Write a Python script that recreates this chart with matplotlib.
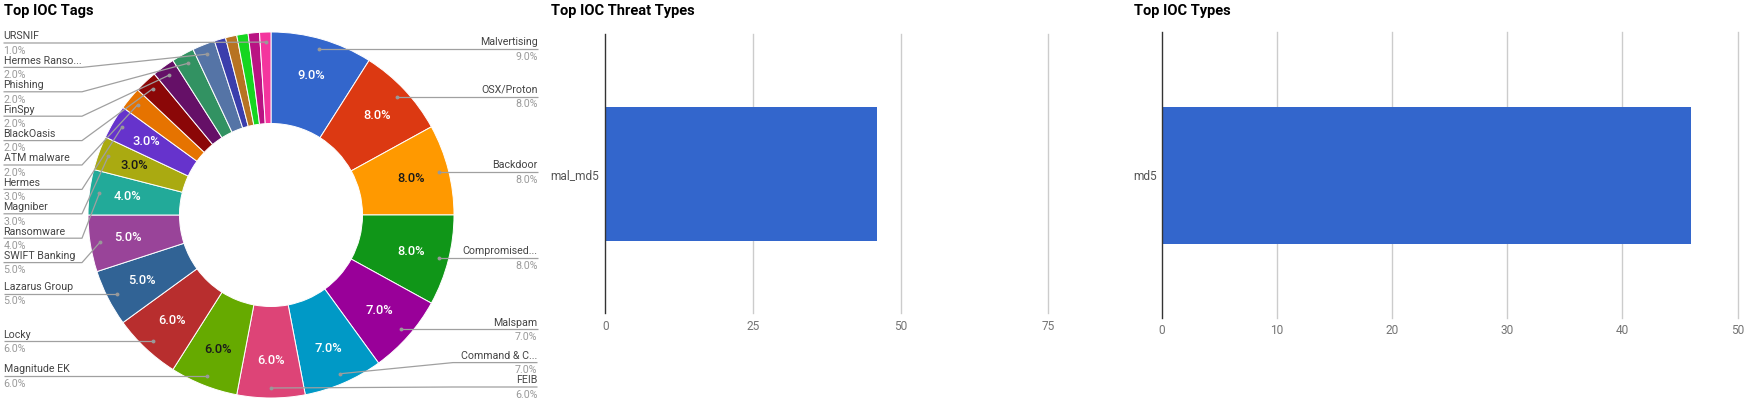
import numpy as np
import matplotlib
matplotlib.use("Agg")
import matplotlib.pyplot as plt

# ---------------- data ----------------
tag_names = ["Malvertising", "OSX/Proton", "Backdoor", "Compromised...", "Malspam",
             "Command & C...", "FEIB", "Magnitude EK", "Locky", "Lazarus Group",
             "SWIFT Banking", "Ransomware", "Magniber", "Hermes", "ATM malware",
             "BlackOasis", "FinSpy", "Phishing", "Hermes Ranso...", "", "", "", "",
             "URSNIF"]
tag_values = [9, 8, 8, 8, 7, 7, 6, 6, 6, 5, 5, 4, 3, 3, 2, 2, 2, 2, 2, 1, 1, 1, 1, 1]

threat_types = ["mal_md5"]
threat_counts = [46]
threat_ticks = [0, 25, 50, 75]

ioc_types = ["md5"]
ioc_counts = [46]
ioc_ticks = [0, 10, 20, 30, 40, 50]

# ---------------- style ----------------
palette = ["#3366cc", "#dc3912", "#ff9900", "#109618", "#990099", "#0099c6",
           "#dd4477", "#66aa00", "#b82e2e", "#316395", "#994499", "#22aa99",
           "#aaaa11", "#6633cc", "#e67300", "#8b0707", "#651067", "#329262",
           "#5574a6", "#3b3eac", "#b77322", "#16d620", "#b91383", "#f4359e"]
dark_text_on = {"#ff9900", "#66aa00", "#aaaa11"}
FONT = ["Roboto", "DejaVu Sans"]
plt.rcParams["font.family"] = FONT

W, H, DPI = 1747, 402, 100
fig = plt.figure(figsize=((W + 0.01) / DPI, (H + 0.01) / DPI), dpi=DPI)
fig.patch.set_facecolor("white")

# overlay axes in top-down pixel coordinates
ax = fig.add_axes([0, 0, 1, 1])

# ---------------- donut ----------------
cx, cy, R = 271.0, 215.0, 183.0
hole = 0.5
wedges, _ = ax.pie(tag_values, colors=palette[:len(tag_values)], startangle=-90,
                   counterclock=True, center=(cx, cy), radius=R,
                   wedgeprops=dict(width=R * (1 - hole), edgecolor="white", linewidth=0.7))
ax.set_xlim(0, W)
ax.set_ylim(H, 0)
ax.set_aspect("auto")
ax.axis("off")

total = float(sum(tag_values))
label_r = 145.0
dot_r = 173.0
left_items, right_items = [], []
for i, (w, v, name) in enumerate(zip(wedges, tag_values, tag_names)):
    th = np.deg2rad((w.theta1 + w.theta2) / 2.0)
    pct = 100.0 * v / total
    col = palette[i]
    if pct >= 3:
        ax.text(cx + label_r * np.cos(th), cy + label_r * np.sin(th), f"{pct:.1f}%",
                ha="center", va="center", fontsize=9.3, fontweight=500,
                color="#1a1a1a" if col in dark_text_on else "white")
    if name:
        dx, dy = cx + dot_r * np.cos(th), cy + dot_r * np.sin(th)
        vis_angle = (np.rad2deg(th) + 90.0) % 360.0
        item = dict(name=name, pct=pct, dx=dx, dy=dy, ang=vis_angle)
        (right_items if vis_angle <= 180.0 + 1e-9 else left_items).append(item)

def place(items, top, bottom, gap):
    ys = []
    for it in items:
        y = max(it["dy"], top)
        if ys:
            y = max(y, ys[-1] + gap)
        ys.append(y)
    for k in range(len(ys) - 1, -1, -1):
        lim = bottom if k == len(ys) - 1 else ys[k + 1] - gap
        ys[k] = min(ys[k], lim)
    return ys

left_items.sort(key=lambda it: -it["ang"])
right_items.sort(key=lambda it: it["ang"])
gap = 24.4
line_c = "#a0a0a0"
for side, items in (("L", left_items), ("R", right_items)):
    ys = place(items, 43.0, 387.0, gap)
    for it, y in zip(items, ys):
        if side == "L":
            tx, bend, ha = 3.5, 82.0, "left"
        else:
            tx, bend, ha = 537.5, 453.0, "right"
        ax.plot([tx, bend, it["dx"]], [y, y, it["dy"]], color=line_c, lw=0.9,
                solid_capstyle="butt", zorder=3)
        ax.plot([it["dx"]], [it["dy"]], "o", ms=2.8, color="#999999", mec="none", zorder=4)
        ax.text(tx, y - 3.6, it["name"], ha=ha, va="baseline", fontsize=7.7, color="#444444")
        ax.text(tx, y + 10.8, f"{it['pct']:.1f}%", ha=ha, va="baseline", fontsize=7.7,
                color="#9a9a9a")

ax.text(3.5, 14.5, "Top IOC Tags", ha="left", va="baseline", fontsize=10.5,
        fontweight="bold", color="#000000")

# ---------------- bar panels ----------------
def bar_panel(l, r, t, b, names, counts, ticks, title, title_x, xpad, ypad):
    bx = fig.add_axes([l / W, (H - b) / H, (r - l) / W, (b - t) / H])
    pos = np.arange(len(names))
    bx.barh(pos, counts, height=0.48, color="#3366cc", zorder=3)
    bx.set_xlim(ticks[0], ticks[-1])
    bx.set_ylim(len(names) - 0.5, -0.5)
    bx.set_xticks(ticks)
    bx.set_xticklabels([str(t_) for t_ in ticks])
    bx.set_yticks(pos)
    bx.set_yticklabels(names)
    for s in bx.spines.values():
        s.set_visible(False)
    bx.tick_params(axis="x", length=0, labelsize=8.6, labelcolor="#757575", pad=xpad)
    bx.tick_params(axis="y", length=0, labelsize=8.6, labelcolor="#555555", pad=ypad)
    for tk in ticks[1:]:
        bx.axvline(tk, color="#cccccc", lw=1.0, zorder=1, clip_on=False)
    bx.axvline(ticks[0], color="#333333", lw=1.0, zorder=4, clip_on=False)
    bx.set_facecolor("none")
    ax.text(title_x, 14.5, title, ha="left", va="baseline", fontsize=10.5,
            fontweight="bold", color="#000000")
    return bx

bar_panel(605.4, 1048.2, 34.3, 313.3, threat_types, threat_counts, threat_ticks,
          "Top IOC Threat Types", 551.0, 5.0, 4.3)
bar_panel(1161.5, 1737.5, 32.3, 318.3, ioc_types, ioc_counts, ioc_ticks,
          "Top IOC Types", 1134.0, 3.8, 3.6)

fig.savefig("out.png", dpi=DPI, facecolor="white")
